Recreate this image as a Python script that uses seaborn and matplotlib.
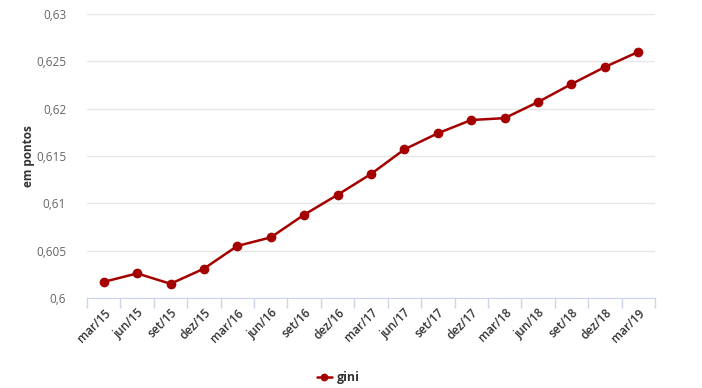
import matplotlib
matplotlib.use("Agg")
import matplotlib.pyplot as plt
import matplotlib.ticker as mticker
import seaborn as sns
import pandas as pd
import numpy as np

# dados
periodos = ["mar/15", "jun/15", "set/15", "dez/15", "mar/16", "jun/16", "set/16", "dez/16",
            "mar/17", "jun/17", "set/17", "dez/17", "mar/18", "jun/18", "set/18", "dez/18", "mar/19"]
gini = [0.6017, 0.6026, 0.6015, 0.6031, 0.6055, 0.6064, 0.6088, 0.6109,
        0.6131, 0.6157, 0.6174, 0.6188, 0.6190, 0.6207, 0.6226, 0.6244, 0.6260]
y_ticks = [0.6, 0.605, 0.61, 0.615, 0.62, 0.625, 0.63]

df = pd.DataFrame({"periodo": periodos, "gini": gini})
df["pos"] = np.arange(len(periodos))

sns.set_style("white")
plt.rcParams["font.family"] = ["Open Sans", "DejaVu Sans"]

W, H = 702, 388
fig = plt.figure(figsize=(W / 100, H / 100), dpi=100)
ax = fig.add_axes([87 / W, (H - 298) / H, (655 - 87) / W, (298 - 14) / H])

linha = "#a50000"
sns.lineplot(data=df, x="pos", y="gini", ax=ax, color=linha, linewidth=1.8,
             marker="o", markersize=7, markeredgewidth=0, label="gini")

ax.set_xlim(-0.5, len(periodos) - 0.5)
ax.set_ylim(0.6, 0.63)
ax.set_yticks(y_ticks)
ax.yaxis.set_major_formatter(mticker.FuncFormatter(lambda v, p: f"{v:g}".replace(".", ",")))
ax.yaxis.grid(True, color="#e6e6e6", linewidth=1)
ax.set_axisbelow(True)

ax.set_xticks(df["pos"])
ax.set_xticklabels(periodos, rotation=45, ha="right", rotation_mode="anchor",
                   fontsize=8.5, color="#333333", fontweight="semibold")
ax.set_xticks(np.arange(-0.5, len(periodos)), minor=True)
ax.tick_params(axis="x", which="major", bottom=False, length=0, pad=6)
ax.tick_params(axis="x", which="minor", bottom=True, length=7, color="#ccd6eb", width=1)
ax.tick_params(axis="y", length=0, labelsize=8.5, labelcolor="#666666", pad=15)

for s in ["top", "right", "left"]:
    ax.spines[s].set_visible(False)
ax.spines["bottom"].set_color("#ccd6eb")

ax.set_xlabel("")
ax.set_ylabel("em pontos", fontsize=8.5, fontweight="bold", color="#333333")
ax.yaxis.set_label_coords((35 - 87) / (655 - 87), 0.5)

leg = ax.legend(loc="center", bbox_to_anchor=((338 - 87) / (655 - 87), -0.28),
                frameon=False, fontsize=9, handlelength=1.2, handletextpad=0.4,
                markerscale=0.8)
for t in leg.get_texts():
    t.set_fontweight("bold")
    t.set_color("#333333")

fig.savefig("out.png", dpi=100)
